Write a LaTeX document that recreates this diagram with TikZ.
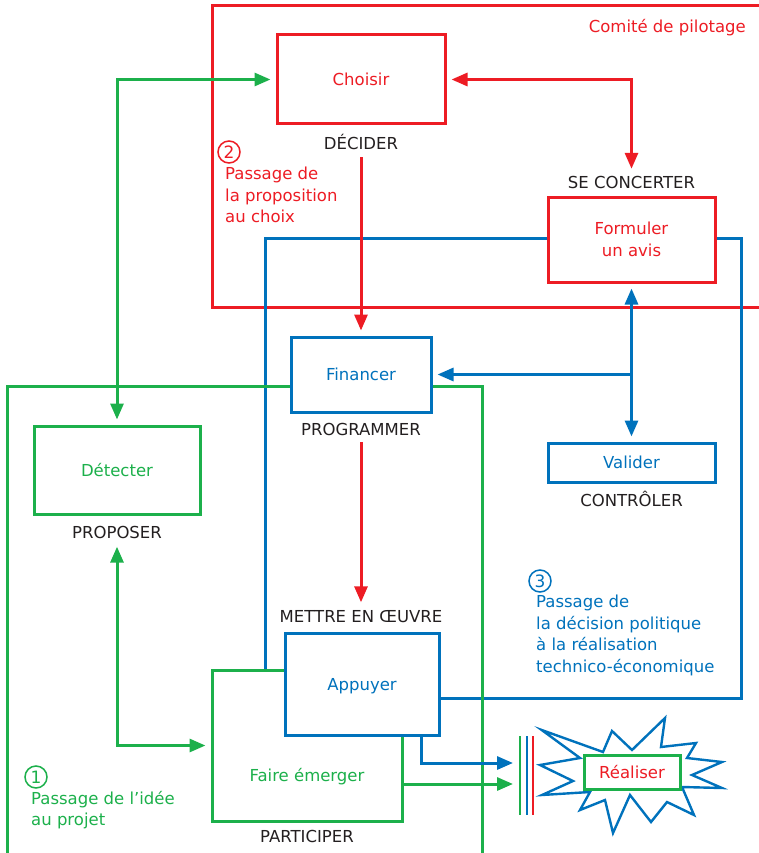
\documentclass[tikz,border=0pt]{standalone}
\usepackage{fontspec}
\setmainfont{DejaVu Sans}
\usetikzlibrary{positioning, arrows.meta}
\definecolor{cred}{RGB}{237,28,36}
\definecolor{cgreen}{RGB}{28,176,75}
\definecolor{cblue}{RGB}{0,114,188}
\definecolor{cdark}{RGB}{35,31,32}
\tikzset{
  txt/.style={font=\fontsize{16.5}{21.5}\selectfont},
  box/.style={txt, draw, line width=3pt, fill=white, inner sep=0pt},
  oneline/.style={text height=12pt, text depth=0pt},
  redbox/.style={box, draw=cred, text=cred},
  bluebox/.style={box, draw=cblue, text=cblue},
  greenbox/.style={box, draw=cgreen, text=cgreen},
  caption/.style={txt, oneline, text=cdark, inner sep=3pt},
  note/.style={txt, align=left, anchor=north west, inner sep=0pt},
  num/.style={circle, draw, line width=1.5pt, minimum size=22pt, inner sep=0pt, font=\fontsize{17}{17}\selectfont},
  frame/.style={line width=3pt},
  tip/.style={-{Triangle[length=16pt,width=13pt]}, line width=3pt, shorten >=5pt},
  tips/.style={{Triangle[length=16pt,width=13pt]}-{Triangle[length=16pt,width=13pt]}, line width=3pt, shorten >=5pt, shorten <=5pt}
}
\begin{document}
\begin{tikzpicture}[x=1pt, y=-1pt]
  \clip (0,0) rectangle (759,853);
  % frames
  \draw[frame, cred] (212,6) rectangle (790,307);
  \draw[frame, cblue] (265,238) rectangle (741,698);
  \draw[frame, cgreen] (7,386) rectangle (482,880);
  \node[txt, anchor=east, text=cred, inner sep=0pt] (comite) at (746,28) {Comité de pilotage};

  \node[redbox, oneline, minimum width=168pt, minimum height=89pt] (choisir) at (361,79.5) {Choisir};
  \node[caption] (decider) at (361,144) {DÉCIDER};
  \node[caption] (concerter) at (631.5,183) {SE CONCERTER};
  \node[redbox, align=center, minimum width=167pt, minimum height=85pt] (formuler) at (631.5,239.5) {Formuler\\un avis};
  \node[bluebox, oneline, minimum width=140pt, minimum height=75pt] (financer) at (361,374.5) {Financer};
  \node[caption] (programmer) at (361,429) {PROGRAMMER};
  \node[bluebox, oneline, minimum width=167pt, minimum height=39pt] (valider) at (631.5,462.5) {Valider};
  \node[caption] (controler) at (631.5,500) {CONTRÔLER};
  \node[greenbox, oneline, minimum width=166pt, minimum height=88pt] (detecter) at (117,470) {Détecter};
  \node[caption] (proposer) at (117,532.5) {PROPOSER};
  \node[caption] (oeuvre) at (361,616.5) {METTRE EN ŒUVRE};
  \node[greenbox, minimum width=190pt, minimum height=151pt] (faire) at (307,745.5) {};
  \node[txt, oneline, text=cgreen] (faireText) at (307,775) {Faire émerger};
  \node[bluebox, oneline, minimum width=154pt, minimum height=102pt] (appuyer) at (362,684) {Appuyer};
  \node[caption] (participer) at (307,836.5) {PARTICIPER};

  % burst
  \draw[cblue, line width=2.4pt, fill=white, line join=miter] (541.7,730) -- (603,752) -- (612,731) -- (632,750) -- (665,718) -- (661,747) -- (696,743) -- (687,758) -- (722,762) -- (692,775) -- (722,788) -- (682,787) -- (694,815) -- (667,802) -- (651,822) -- (630,795) -- (613,833) -- (605,800) -- (580,810) -- (590,792) -- (542,795) -- (573,781) -- (540,765) -- (580,758) -- cycle;
  \node[greenbox, oneline, text=cred, minimum width=96pt, minimum height=34pt] (realiser) at (632,772) {Réaliser};
  \foreach \c/\x in {cgreen/520, cblue/527, cred/533}
    \draw[\c, line width=2.4pt] (\x,736) -- (\x,815);
  \coordinate (barIn1) at (518,763);
  \coordinate (barIn2) at (518,784);

  \draw[cgreen, tips] (choisir.west) -| (detecter.north);
  \draw[cred, tips] (choisir.east) -| (concerter.north);
  \draw[cred, tip, shorten <=4pt] (decider) -- (financer);
  \draw[cred, tip, shorten <=4pt] (programmer) -- (oeuvre);
  \draw[cblue, tips] (formuler) -- (valider);
  \coordinate (branch) at (formuler.south |- financer.east);
  \draw[cblue, tip] (branch) -- (financer.east);
  \draw[cgreen, tips] (proposer.south) |- (faire.west);
  \draw[cblue, tip] ([xshift=-19pt]appuyer.south east) |- (barIn1);
  \draw[cgreen, tip] (faire.east |- barIn2) -- (barIn2);

  \node[num, cred] (n2) at (229,152) {2};
  \node[note, text=cred] (passage2) at (225,167) {Passage de\\la proposition\\au choix};
  \node[num, cblue] (n3) at (540,581) {3};
  \node[note, text=cblue] (passage3) at (536,595) {Passage de\\la décision politique\\à la réalisation\\technico-économique};
  \node[num, cgreen] (n1) at (36,777) {1};
  \node[note, text=cgreen] (passage1) at (31,791) {Passage de l’idée\\au projet};
\end{tikzpicture}
\end{document}
